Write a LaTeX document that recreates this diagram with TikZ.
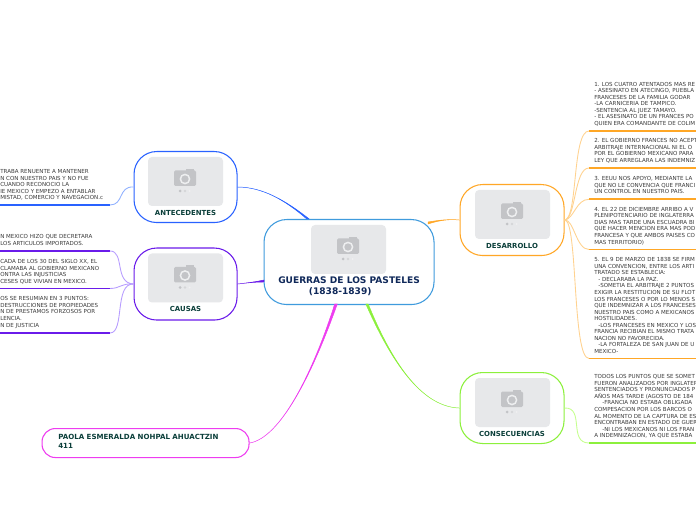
\documentclass[tikz,border=0pt]{standalone}
\usepackage{fontspec}
\usetikzlibrary{calc}
\setmainfont{DejaVu Sans}
\definecolor{cblue}{HTML}{3F9BDD}
\definecolor{ablue}{HTML}{2962FF}
\definecolor{apurple}{HTML}{6A1BEA}
\definecolor{aorange}{HTML}{FFA726}
\definecolor{agreen}{HTML}{8CF03C}
\definecolor{amag}{HTML}{EE3CF0}
\definecolor{lblue}{HTML}{8FB0FF}
\definecolor{lpurple}{HTML}{B79CFF}
\definecolor{lorange}{HTML}{FFD28F}
\definecolor{lgreen}{HTML}{C6FF8F}
\definecolor{titlenavy}{HTML}{10295A}
\definecolor{titlegreen}{HTML}{0B3F3A}
\definecolor{bodytxt}{HTML}{3A3A3A}
\definecolor{phfill}{HTML}{E7E8EA}
\definecolor{phicon}{HTML}{C3C4C7}
\tikzset{
  x=0.75pt,y=-0.75pt,
  mainbox/.style={draw=#1,line width=0.8pt,rounded corners=17pt,fill=white,inner sep=0pt,anchor=north west},
  body/.style={anchor=north west,inner sep=0pt,align=left,text=bodytxt,font=\fontsize{4.15pt}{4.91pt}\selectfont},
  boxlabel/.style={inner sep=0pt,text=titlegreen,font=\bfseries\fontsize{5.2pt}{6pt}\selectfont},
  thinlink/.style={draw=#1,line width=0.65pt},
  underline/.style={draw=#1,line width=1.3pt},
  toplink/.style={draw=#1,fill=#1,line width=0.35pt,line join=round},
  pics/photo/.style={code={
    \fill[phfill,rounded corners=3pt] (0,0) rectangle (75,49);
    \fill[phicon,rounded corners=1pt] (26,13.5) rectangle (48,29);
    \fill[phicon] (38,12) rectangle (46,14);
    \draw[phfill!70!white,line width=1.1pt] (37,22) circle (4.6);
    \fill[phicon] (32,34) circle (1.5);
    \fill[phicon!70!white] (37,34) circle (1.3);
    \fill[phicon!25!white] (41.5,34) circle (1);
  }}
}
\begin{document}
\begin{tikzpicture}
\useasboundingbox (0,0) rectangle (696,520);
\clip (0,0) rectangle (696,520);
\fill[white] (0,0) rectangle (696,520);

% main boxes
\node[mainbox=cblue,minimum width=127.5pt,minimum height=63.75pt] (central) at (263.5,219) {};
\node[mainbox=ablue,minimum width=77.25pt,minimum height=53.25pt] (ante) at (133.5,151) {};
\node[mainbox=apurple,minimum width=77.25pt,minimum height=54pt] (causas) at (133.5,247.5) {};
\node[mainbox=aorange,minimum width=78pt,minimum height=53.25pt] (desa) at (459.5,184) {};
\node[mainbox=agreen,minimum width=78pt,minimum height=53.25pt] (cons) at (459.5,372) {};
\node[mainbox=amag,rounded corners=10pt,minimum width=155.25pt,minimum height=21.75pt] (paola) at (41.5,428) {};

% attachment points on the central box
\coordinate (cA) at (308,219);
\coordinate (cC) at (264,281);
\coordinate (cD) at (428,223);
\coordinate (cG) at (367,304);
\coordinate (cP) at (336,304);

% connectors from the centre: tapered towards the child
\draw[toplink=ablue] ($(cA)+(1.2,0)$) .. controls (285,200) and (262,187) .. (ante.east)
   .. controls (262,187) and (285,200) .. ($(cA)+(-1.2,0)$) -- cycle;
\draw[toplink=apurple] ($(cC)+(0,1)$) .. controls (255,282) and (246,283) .. (causas.east)
   .. controls (246,283) and (255,282) .. ($(cC)+(0,-1)$) -- cycle;
\draw[toplink=aorange] ($(cD)+(0,1)$) .. controls (440,220) and (450,219) .. (desa.west)
   .. controls (450,219) and (440,220) .. ($(cD)+(0,-1)$) -- cycle;
\draw[toplink=agreen] ($(cG)+(1.2,0)$) .. controls (395,370) and (425,407) .. (cons.west)
   .. controls (425,407) and (395,370) .. ($(cG)+(-1.2,0)$) -- cycle;
\draw[toplink=amag] ($(cP)+(1.3,0)$) .. controls (312,375) and (280,438) .. (paola.east)
   .. controls (280,438) and (312,375) .. ($(cP)+(-1.3,0)$) -- cycle;

% placeholders
\pic at (311,225) {photo};
\pic at (148,157) {photo};
\pic at (148,253.5) {photo};
\pic at (475,190) {photo};
\pic at (475,378) {photo};

% labels
\node[inner sep=0pt,text=titlenavy,align=left,anchor=north west,font=\bfseries\fontsize{6.8pt}{8.1pt}\selectfont] (centralLabel) at (278,277) {GUERRAS DE LOS PASTELES\\\hspace*{23pt}(1838-1839)};
\node[boxlabel] (anteLabel) at (185.5,212.5) {ANTECEDENTES};
\node[boxlabel] (causasLabel) at (185.5,308.5) {CAUSAS};
\node[boxlabel] (desaLabel) at (512,245.5) {DESARROLLO};
\node[boxlabel] (consLabel) at (512,433.5) {CONSECUENCIAS};
\node[inner sep=0pt,text=titlegreen,align=left,anchor=north west,font=\bfseries\fontsize{5.3pt}{6.6pt}\selectfont] (paolaLabel) at (58,434) {PAOLA ESMERALDA NOHPAL AHUACTZIN\\411};

% left texts
\node[body] (a1) at (0,169.5) {TRABA RENUENTE A MANTENER\\N CON NUESTRO PAIS Y NO FUE\\ CUANDO RECONOCIO LA\\IE MEXICO Y EMPEZO A ENTABLAR\\MISTAD, COMERCIO Y NAVEGACION.c};
\node[body] (k1) at (0,234.5) {N MEXICO HIZO QUE DECRETARA\\ LOS ARTICULOS IMPORTADOS.};
\node[body] (k2) at (0,259.5) {CADA DE LOS 30 DEL SIGLO XX, EL\\CLAMABA AL GOBIERNO MEXICANO\\ONTRA LAS INJUSTICIAS\\CESES QUE VIVIAN EN MEXICO.};
\node[body] (k3) at (0,296.5) {OS SE RESUMIAN EN 3 PUNTOS:\\ DESTRUCCIONES DE PROPIEDADES\\N DE PRESTAMOS FORZOSOS POR\\LENCIA.\\N DE JUSTICIA};

% left underlines and links
\coordinate (a1l) at (0,205); \coordinate (a1r) at (110,205);
\draw[underline=ablue] (a1l) -- (a1r);
\draw[thinlink=lblue] (a1r) .. controls (124,205) and (118,186) .. (ante.west);
\coordinate (k1l) at (0,251); \coordinate (k1r) at (110,251);
\coordinate (k2l) at (0,288.5); \coordinate (k2r) at (110,288.5);
\coordinate (k3l) at (0,333); \coordinate (k3r) at (110,333);
\draw[underline=apurple] (k1l) -- (k1r);
\draw[underline=apurple] (k2l) -- (k2r);
\draw[underline=apurple] (k3l) -- (k3r);
\draw[thinlink=lpurple] (k1r) .. controls (125,251) and (114,283) .. (causas.west);
\draw[thinlink=lpurple] (k2r) .. controls (120,288.5) and (122,283) .. (causas.west);
\draw[thinlink=lpurple] (k3r) .. controls (125,333) and (114,283) .. (causas.west);

% right texts
\node[body] (d1) at (594,81.7) {1. LOS CUATRO ATENTADOS MAS RE\\- ASESINATO EN ATECINGO, PUEBLA\\FRANCESES DE LA FAMILIA GODAR\\-LA CARNICERIA DE TAMPICO.\\-SENTENCIA AL JUEZ TAMAYO.\\- EL ASESINATO DE UN FRANCES PO\\QUIEN ERA COMANDANTE DE COLIM};
\node[body] (d2) at (594,138.4) {2. EL GOBIERNO FRANCES NO ACEPT\\ARBITRAJE INTERNACIONAL NI EL O\\POR EL GOBIERNO MEXICANO PARA\\LEY QUE ARREGLARA LAS INDEMNIZ};
\node[body] (d3) at (594,176.4) {3. EEUU NOS APOYO, MEDIANTE LA\\QUE NO LE CONVENCIA QUE FRANCI\\UN CONTROL EN NUESTRO PAIS.};
\node[body] (d4) at (594,206.9) {4. EL 22 DE DICIEMBRE ARRIBO A V\\PLENIPOTENCIARIO DE INGLATERRA\\DIAS MAS TARDE UNA ESCUADRA BI\\QUE HACER MENCION ERA MAS POD\\FRANCESA Y QUE AMBOS PAISES CO\\MAS TERRITORIO)};
\node[body] (d5) at (594,257.4) {5. EL 9 DE MARZO DE 1838 SE FIRM\\UNA CONVENCION, ENTRE LOS ARTI\\TRATADO SE ESTABLECIA:\\\hspace*{3pt}- DECLARABA LA PAZ.\\\hspace*{3pt}-SOMETIA EL ARBITRAJE 2 PUNTOS\\EXIGIR LA RESTITUCION DE SU FLOT\\LOS FRANCESES O POR LO MENOS S\\QUE INDEMNIZAR A LOS FRANCESES\\NUESTRO PAIS COMO A MEXICANOS\\HOSTILIDADES.\\\hspace*{3pt}-LOS FRANCESES EN MEXICO Y LOS\\FRANCIA RECIBIAN EL MISMO TRATA\\NACION NO FAVORECIDA.\\\hspace*{3pt}-LA FORTALEZA DE SAN JUAN DE U\\MEXICO-};
\node[body] (g1) at (594,374.4) {TODOS LOS PUNTOS QUE SE SOMET\\FUERON ANALIZADOS POR INGLATER\\SENTENCIADOS Y PRONUNCIADOS P\\AÑOS MAS TARDE (AGOSTO DE 184\\\hspace*{6pt}-FRANCIA NO ESTABA OBLIGADA\\COMPESACION POR LOS BARCOS O\\AL MOMENTO DE LA CAPTURA DE ES\\ENCONTRABAN EN ESTADO DE GUER\\\hspace*{6pt}-NI LOS MEXICANOS NI LOS FRAN\\A INDEMNIZACION, YA QUE ESTABA};

% right underlines and links
\coordinate (d1l) at (589,131); \coordinate (d1r) at (696,131);
\coordinate (d2l) at (589,168); \coordinate (d2r) at (696,168);
\coordinate (d3l) at (589,199.3); \coordinate (d3r) at (696,199.3);
\coordinate (d4l) at (589,249.5); \coordinate (d4r) at (696,249.5);
\coordinate (d5l) at (589,358.5); \coordinate (d5r) at (696,358.5);
\coordinate (g1l) at (589,443); \coordinate (g1r) at (696,443);
\foreach \n in {d1,d2,d3,d4,d5} {\draw[underline=aorange] (\n l) -- (\n r);}
\draw[underline=agreen] (g1l) -- (g1r);
\draw[thinlink=lorange] (desa.east) .. controls (578,219) and (572,131) .. (d1l);
\draw[thinlink=lorange] (desa.east) .. controls (576,219) and (574,168) .. (d2l);
\draw[thinlink=lorange] (desa.east) .. controls (574,219) and (576,199.3) .. (d3l);
\draw[thinlink=lorange] (desa.east) .. controls (574,219) and (576,249.5) .. (d4l);
\draw[thinlink=lorange] (desa.east) .. controls (578,219) and (572,358.5) .. (d5l);
\draw[thinlink=lgreen] (cons.east) .. controls (585,407) and (568,443) .. (g1l);
\end{tikzpicture}
\end{document}
